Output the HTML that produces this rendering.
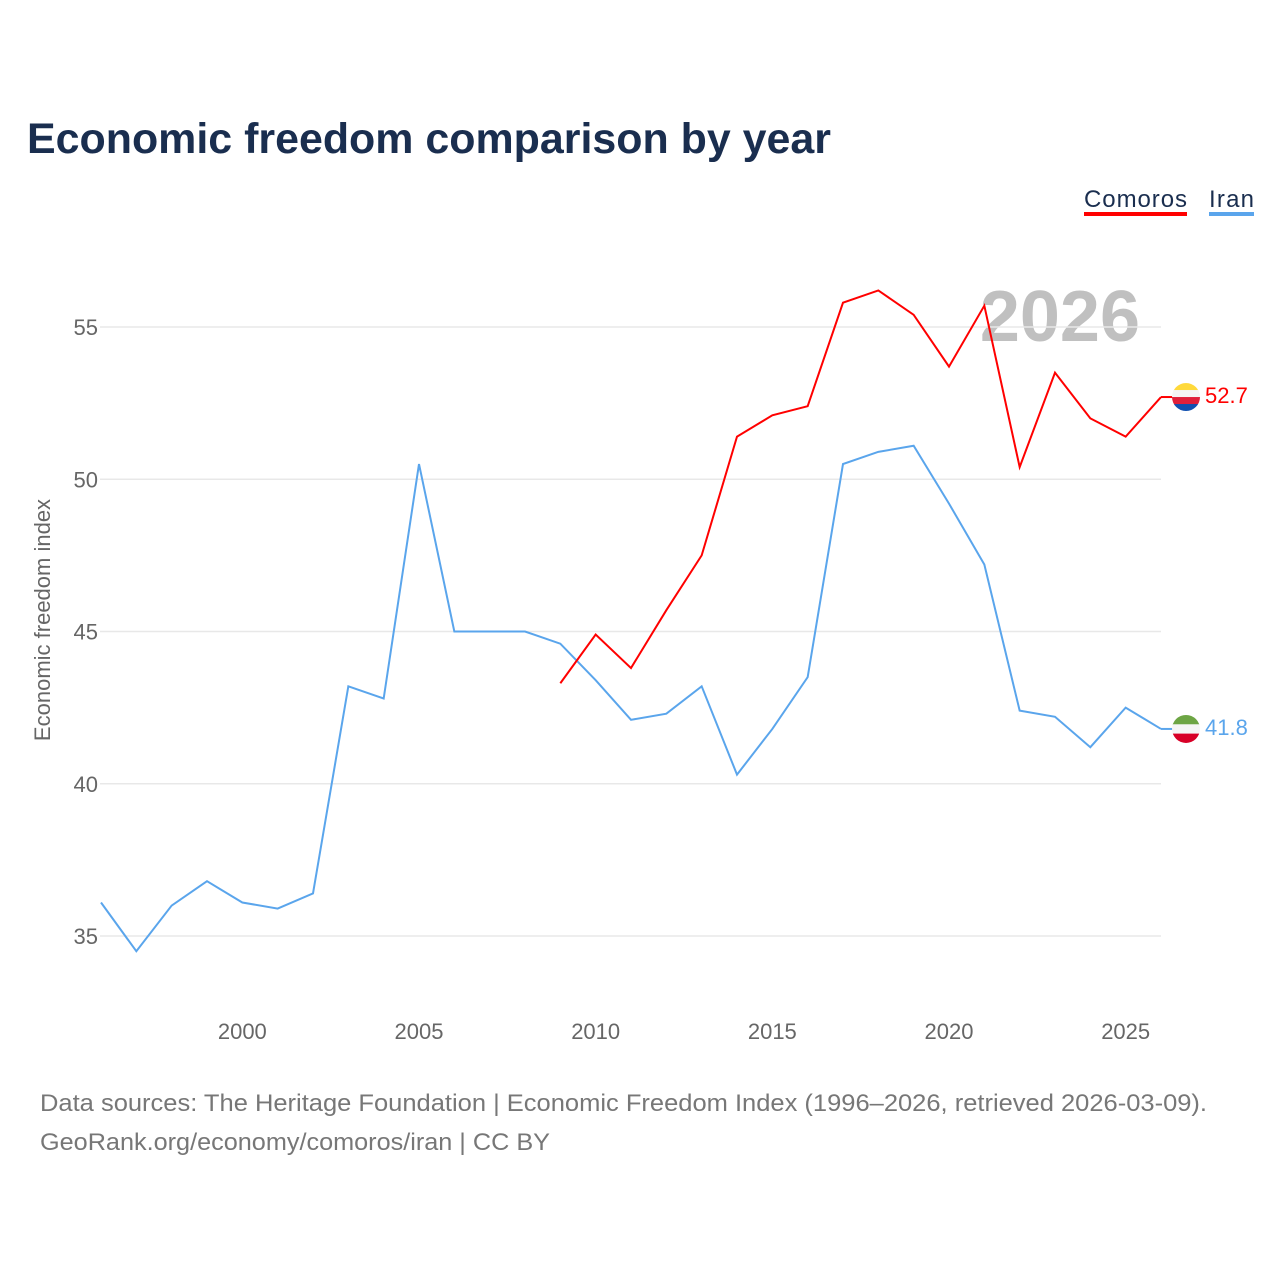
<!DOCTYPE html>
<html><head><meta charset="utf-8"><style>
body{margin:0;background:#fff;width:1280px;height:1280px;overflow:hidden;font-family:"Liberation Sans",sans-serif}
</style></head><body>
<svg width="1280" height="1280" id="chart">
<text x="27" y="153" font-size="43" font-weight="bold" fill="#1a2e4f" textLength="804" lengthAdjust="spacingAndGlyphs">Economic freedom comparison by year</text>
<g>
<text x="1084" y="207" font-size="24" fill="#1a2e4f" textLength="103">Comoros</text>
<rect x="1084" y="212" width="103" height="4" fill="#ff0000"/>
<text x="1209" y="207" font-size="24" fill="#1a2e4f" textLength="45">Iran</text>
<rect x="1209" y="212" width="45" height="4" fill="#5aa5ec"/>
</g>
<text x="1140" y="341" font-size="72" font-weight="bold" fill="#c0c0c0" text-anchor="end">2026</text>
<g id="grid"></g><g id="xt"></g><g id="yt"></g><g id="lines"></g>
<text transform="translate(50,620) rotate(-90)" font-size="22" fill="#666" text-anchor="middle">Economic freedom index</text>
<text x="40" y="1111" font-size="24" fill="#777" textLength="1167" lengthAdjust="spacingAndGlyphs">Data sources: The Heritage Foundation | Economic Freedom Index (1996–2026, retrieved 2026-03-09).</text>
<text x="40" y="1150" font-size="24" fill="#777" textLength="510" lengthAdjust="spacingAndGlyphs">GeoRank.org/economy/comoros/iran | CC BY</text>
</svg>
<script>
const years=[1996,1997,1998,1999,2000,2001,2002,2003,2004,2005,2006,2007,2008,2009,2010,2011,2012,2013,2014,2015,2016,2017,2018,2019,2020,2021,2022,2023,2024,2025,2026];
const iran=[36.1,34.5,36.0,36.8,36.1,35.9,36.4,43.2,42.8,50.5,45.0,45.0,45.0,44.6,43.4,42.1,42.3,43.2,40.3,41.8,43.5,50.5,50.9,51.1,49.2,47.2,42.4,42.2,41.2,42.5,41.8];
const comorosYears=[2009,2010,2011,2012,2013,2014,2015,2016,2017,2018,2019,2020,2021,2022,2023,2024,2025,2026];
const comoros=[43.3,44.9,43.8,45.7,47.5,51.4,52.1,52.4,55.8,56.2,55.4,53.7,55.7,50.4,53.5,52.0,51.4,52.7];
const yTicks=[35,40,45,50,55];
const xTicks=[2000,2005,2010,2015,2020,2025];
const X=y=>101+(y-1996)*(1161-101)/30;
const Y=v=>936-(v-35)*30.45;
const NS="http://www.w3.org/2000/svg";
function mk(t,a,p){const e=document.createElementNS(NS,t);for(const k in a)e.setAttribute(k,a[k]);document.getElementById(p).appendChild(e);return e;}
yTicks.forEach(v=>{
const l=mk('line',{x1:100,x2:1161,y1:Y(v),y2:Y(v),stroke:'#e8e8e8','stroke-width':1.5},'grid');


const t=mk('text',{x:98,y:Y(v)+8,'font-size':22,fill:'#666','text-anchor':'end'},'yt');t.textContent=v;


});
xTicks.forEach(v=>{
const t=mk('text',{x:X(v),y:1039,'font-size':22,fill:'#666','text-anchor':'middle'},'xt');t.textContent=v;


});
function line(xs,vs,c,name){
const p=mk('polyline',{points:xs.map((y,i)=>X(y)+','+Y(vs[i])).join(' '),fill:'none',stroke:c,'stroke-width':2},'lines');


}
line(years,iran,'#5aa5ec','iran-line');
line(comorosYears,comoros,'#ff0000','comoros-line');
const d=mk('defs',{},'lines');
function end(v,c,cols,name,id){
const y=Y(v);
mk('line',{x1:1161,x2:1175,y1:y,y2:y,stroke:c,'stroke-width':2},'lines');
const cp=document.createElementNS(NS,'clipPath');cp.setAttribute('id',id);
const ci=document.createElementNS(NS,'circle');ci.setAttribute('cx',1186);ci.setAttribute('cy',y);ci.setAttribute('r',14);cp.appendChild(ci);d.appendChild(cp);
cols.forEach((col,i)=>mk('rect',{x:1172,y:y-14+i*28/cols.length,width:28,height:28/cols.length+0.5,fill:col,'clip-path':'url(#'+id+')'},'lines'));
const t=mk('text',{x:1205,y:y+6,'font-size':22,fill:c},'lines');t.textContent=v.toFixed(1);


}
end(comoros[comoros.length-1],'#ff0000',['#ffd93b','#f5f5f5','#e0203a','#1050b0'],'comoros-end-label','ccom');
end(iran[iran.length-1],'#5aa5ec',['#6da544','#f5f5f5','#d80027'],'iran-end-label','ciran');
</script>
</body></html>
